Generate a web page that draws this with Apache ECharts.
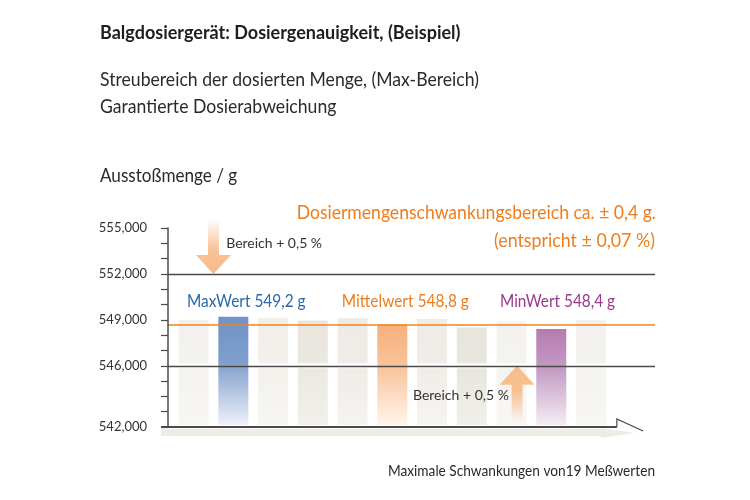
<!DOCTYPE html>
<html><head><meta charset="utf-8">
<script src="https://cdn.jsdelivr.net/npm/echarts@6/dist/echarts.min.js"></script>
<style>html,body{margin:0;padding:0;background:#fff}#c{width:750px;height:500px}</style>
</head><body><div id="c"></div>
<script>
// ---- data ----
const categories = ['1','2','3','4','5','6','7','8','9','10','11'];
const barValues = [549.0, 549.2, 549.13, 548.95, 549.1, 548.7, 549.05, 548.5, 548.9, 548.4, 549.0];
const yMin = 542, yMax = 555;
const yTickLabels = [555, 552, 549, 546, 542];
const rangeLines = [552, 546];
const meanLine = 548.7;
const arrowX = [0.5, 8.14];
const arrowFrom = [555.6, 542.3];
const arrowTo = [552, 546];
const annoText = ['MaxWert 549,2 g', 'Mittelwert 548,8 g', 'MinWert 548,4 g', 'Bereich + 0,5 %', 'Bereich + 0,5 %'];
const annoX = [-0.166, 3.73, 7.71, 0.82, 5.52];
const annoY = [550.18, 550.18, 550.18, 553.96, 544.09];

// ---- styles ----
const barTopColors = ['#f3f1ed','#6f93c6','#f2efe9','#eae6de','#eeebe5','#f6b07c','#efece6','#e8e5dd','#f3f2ee','#b57bb1','#f3f1ed'];
const barMidColors = ['#f4f2ef','#7f9ecc','#f3f0eb','#ebe8e1','#efece7','#f9c39a','#f0ede8','#e9e6df','#f4f3ef','#c49cc4','#f4f2ef'];
const barBottomColors = ['#f8f7f5','#eef1f9','#f7f6f3','#f2f0ec','#f5f3f0','#fff5ec','#f6f4f1','#f1efea','#f8f7f5','#f4edf4','#f8f7f5'];
const barGapAtLine = [true, false, true, true, true, false, true, true, true, false, true];
const annoColor = ['#2a69ad', '#ef7d1c', '#993a8c', '#333333', '#333333'];
const annoFont = ['17px Lato', '17px Lato', '17px Lato', '14px Lato', '14px Lato'];
const annoScale = [0.906, 0.91, 0.905, 1, 1];
const axisArrowEnd = 10.65, axisArrowTip = 11.31;
const FONT = 'Lato';

const chart = echarts.init(document.getElementById('c'));
function fmt(v){ return v.toFixed(3).replace('.', ','); }
const barData = categories.map((c, i) => [i, barValues[i]]);

function txt(x, y, text, font, fill, align, sx) {
  return { type: 'text', x: x, y: y, scaleX: sx, silent: true,
    style: { text: text, font: font, fill: fill, align: align || 'left', verticalAlign: 'middle' } };
}

const option = {
  backgroundColor: '#fff',
  animation: false,
  grid: { left: 168, right: 95, top: 228, bottom: 73, containLabel: false, outerBoundsMode: 'none' },
  xAxis: { type: 'value', min: -0.644, max: 11.61, show: false },
  yAxis: {
    type: 'value', min: yMin, max: yMax, interval: 1,
    axisLine: { show: true, onZero: false, lineStyle: { color: '#4a4a4a', width: 1.5 } },
    axisTick: { show: true, length: 7, lineStyle: { color: '#4a4a4a', width: 1.2 } },
    axisLabel: { margin: 21, color: '#333', fontFamily: FONT, fontSize: 13,
      formatter: v => yTickLabels.indexOf(Math.round(v)) >= 0 ? fmt(v) : '' },
    splitLine: { show: false },
    z: 6
  },
  graphic: [
    txt(100, 33, 'Balgdosiergerät: Dosiergenauigkeit, (Beispiel)', 'bold 18px ' + FONT, '#1e1e1e', 'left', 1.0),
    txt(100, 80, 'Streubereich der dosierten Menge, (Max-Bereich)', '19px ' + FONT, '#2a2a2a', 'left', 0.927),
    txt(100, 107, 'Garantierte Dosierabweichung', '19px ' + FONT, '#2a2a2a', 'left', 0.927),
    txt(100, 176, 'Ausstoßmenge / g', '19px ' + FONT, '#2a2a2a', 'left', 0.9),
    txt(656, 213, 'Dosiermengenschwankungsbereich ca. ± 0,4 g.', '20px ' + FONT, '#ef7d1c', 'right', 0.878),
    txt(655, 241, '(entspricht ± 0,07 %)', '20px ' + FONT, '#ef7d1c', 'right', 0.89),
    txt(655, 471, 'Maximale Schwankungen von19 Meßwerten', '15px ' + FONT, '#2a2a2a', 'right', 0.911)
  ],
  series: [
    { // x axis with arrow
      type: 'custom', clip: false, z: 1, silent: true,
      data: [[0, yMin]],
      renderItem: function (params, api) {
        const y0 = api.coord([0, yMin])[1];
        const xL = api.coord([-0.644, yMin])[0] - 7;
        const xE = api.coord([axisArrowEnd, yMin])[0];
        const xT = api.coord([axisArrowTip, yMin])[0];
        const xS = api.coord([axisArrowEnd - 0.4, yMin])[0];
        const xST = api.coord([axisArrowTip - 0.2, yMin])[0];
        return { type: 'group', children: [
          { type: 'polygon', shape: { points: [[xL, y0 + 2], [xS, y0 + 2], [xS, y0 + 1], [xST, y0 + 6], [xS, y0 + 11], [xS, y0 + 9], [xL, y0 + 9]] },
            style: { fill: '#efece5' } },
          { type: 'polyline', shape: { points: [[xL, y0], [xE, y0]] }, style: { stroke: '#4a4a4a', lineWidth: 2, fill: null } },
          { type: 'polyline', shape: { points: [[xE, y0], [xE, y0 - 8], [xT, y0 + 4]] }, style: { stroke: '#4a4a4a', lineWidth: 1.2, fill: null } }
        ] };
      }
    },
    { // bars
      type: 'custom', name: 'Messwerte', clip: false, z: 2,
      data: barData,
      renderItem: function (params, api) {
        const i = params.dataIndex;
        const x = api.value(0), v = api.value(1);
        const top = api.coord([x, v]);
        const base = api.coord([x, yMin]);
        const bottom = base[1] - 2;
        const w = api.size([1, 0])[0] * 0.755;
        const grad = new echarts.graphic.LinearGradient(0, top[1], 0, bottom, [
            { offset: 0, color: barTopColors[i] },
            { offset: 0.42, color: barMidColors[i] },
            { offset: 1, color: barBottomColors[i] }], true);
        const x0 = top[0] - w / 2;
        if (barGapAtLine[i]) {
          const yl = api.coord([x, rangeLines[1]])[1];
          return { type: 'group', children: [
            { type: 'rect', shape: { x: x0, y: top[1], width: w, height: yl - 2.5 - top[1] }, style: { fill: grad } },
            { type: 'rect', shape: { x: x0, y: yl + 2.5, width: w, height: bottom - yl - 2.5 }, style: { fill: grad } }
          ] };
        }
        return { type: 'rect', shape: { x: x0, y: top[1], width: w, height: bottom - top[1] }, style: { fill: grad } };
      }
    },
    { // reference lines
      type: 'line', data: [], z: 3, silent: true,
      markLine: {
        silent: true, symbol: 'none', animation: false,
        label: { show: false },
        data: [
          { yAxis: rangeLines[0], lineStyle: { color: '#4a4a4a', width: 1.3, type: 'solid' } },
          { yAxis: rangeLines[1], lineStyle: { color: '#4a4a4a', width: 1.3, type: 'solid' } },
          { yAxis: meanLine, lineStyle: { color: '#f08321', width: 1.6, type: 'solid' } }
        ]
      }
    },
    { // arrows
      type: 'custom', clip: false, z: 4, silent: true,
      data: arrowX.map((x, i) => [x, arrowFrom[i], arrowTo[i]]),
      renderItem: function (params, api) {
        const x = api.value(0);
        const p0 = api.coord([x, api.value(1)]);
        const p1 = api.coord([x, api.value(2)]);
        const dir = p1[1] > p0[1] ? 1 : -1;
        const sw = 5.5, hw = 17.5, hl = 19;
        const hb = p1[1] - dir * hl;
        const cx = p0[0];
        const pts = [[cx - sw, p0[1]], [cx - sw, hb], [cx - hw, hb], [cx, p1[1]], [cx + hw, hb], [cx + sw, hb], [cx + sw, p0[1]]];
        const stops = [{ offset: 0, color: 'rgba(248,184,132,0)' }, { offset: 0.55, color: 'rgba(248,184,132,0.85)' }, { offset: 1, color: '#f8bb88' }];
        const grad = dir > 0 ? new echarts.graphic.LinearGradient(0, 0, 0, 1, stops)
                             : new echarts.graphic.LinearGradient(0, 1, 0, 0, stops);
        return { type: 'polygon', shape: { points: pts }, style: { fill: grad } };
      }
    },
    { // annotations
      type: 'custom', clip: false, z: 5, silent: true,
      data: annoX.map((x, i) => [x, annoY[i]]),
      renderItem: function (params, api) {
        const i = params.dataIndex;
        const p = api.coord([api.value(0), api.value(1)]);
        return { type: 'text', x: p[0], y: p[1], scaleX: annoScale[i],
          style: { text: annoText[i], font: annoFont[i], fill: annoColor[i], align: 'left', verticalAlign: 'middle' } };
      }
    }
  ]
};
chart.setOption(option);
</script>
</body></html>
